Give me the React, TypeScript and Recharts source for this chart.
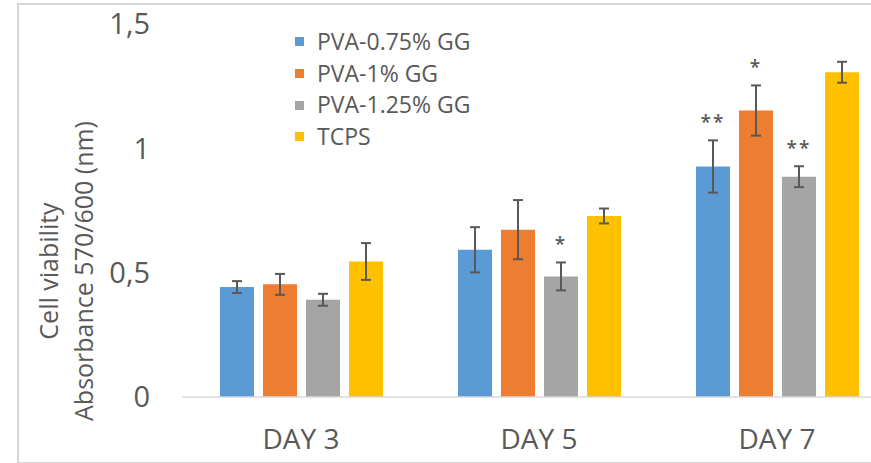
import { BarChart, Bar, XAxis, YAxis, ErrorBar } from "recharts";

const days = ["DAY 3", "DAY 5", "DAY 7"];
const seriesNames = ["PVA-0.75% GG", "PVA-1% GG", "PVA-1.25% GG", "TCPS"];
const colors = ["#5B9BD5", "#ED7D31", "#A5A5A5", "#FFC000"];

const pva075 = [0.442, 0.592, 0.927];
const pva1 = [0.453, 0.673, 1.152];
const pva125 = [0.391, 0.485, 0.886];
const tcps = [0.545, 0.728, 1.306];

const pva075Err = [0.024, 0.091, 0.105];
const pva1Err = [0.042, 0.119, 0.101];
const pva125Err = [0.024, 0.056, 0.042];
const tcpsErr = [0.074, 0.03, 0.042];

const pva075Sig = ["", "", "**"];
const pva1Sig = ["", "", "*"];
const pva125Sig = ["", "*", "**"];
const tcpsSig = ["", "", ""];

const yTicks = [0, 0.5, 1, 1.5];

const values = [pva075, pva1, pva125, tcps];
const errors = [pva075Err, pva1Err, pva125Err, tcpsErr];
const sigs = [pva075Sig, pva1Sig, pva125Sig, tcpsSig];

const data = days.map((day, i) => {
  const row: Record<string, string | number> = { day };
  values.forEach((v, s) => {
    row[`s${s}`] = v[i];
    row[`e${s}`] = errors[s][i];
  });
  return row;
});

const FONT = "'Open Sans', sans-serif";
const TEXT = "#595959";

function sigLabel(s: number) {
  return (props: any) => {
    const { x, y, width, height, index } = props;
    const mark = sigs[s][index];
    if (!mark) return null;
    const v = values[s][index];
    const errPx = (height * errors[s][index]) / v;
    return (
      <text
        key={`sig-${s}-${index}`}
        x={x + width / 2}
        y={y - errPx - 11}
        textAnchor="middle"
        fontSize={19}
        fontFamily={FONT}
        fontWeight={600}
        fill={TEXT}
        letterSpacing={2}
      >
        {mark}
      </text>
    );
  };
}

function YTick(props: any) {
  const { y, payload } = props;
  return (
    <text
      x={150}
      y={y}
      dy="0.36em"
      textAnchor="end"
      fontSize={29}
      fontFamily={FONT}
      fill={TEXT}
    >
      {String(payload.value).replace(".", ",")}
    </text>
  );
}

function XTick(props: any) {
  const { x, payload } = props;
  return (
    <text
      x={x}
      y={439}
      dy="0.36em"
      textAnchor="middle"
      fontSize={28}
      fontFamily={FONT}
      fill={TEXT}
    >
      {payload.value}
    </text>
  );
}

function LegendBox() {
  return (
    <div style={{ fontFamily: FONT, color: TEXT }}>
      {seriesNames.map((name, i) => (
        <div
          key={name}
          style={{ display: "flex", alignItems: "center", height: 31.7 }}
        >
          <span
            style={{
              width: 9,
              height: 9,
              background: colors[i],
              marginRight: 13,
              display: "inline-block",
            }}
          />
          <span style={{ fontSize: 23, lineHeight: "31.7px" }}>{name}</span>
        </div>
      ))}
    </div>
  );
}

export default function App() {
  return (
    <div
      style={{
        position: "absolute",
        left: 0,
        top: 0,
        width: 871,
        height: 463,
        overflow: "hidden",
        background: "#fff",
      }}
    >
      <div
        style={{
          position: "absolute",
          left: 17,
          top: 3,
          width: 900,
          height: 457,
          border: "2px solid #d6d6d6",
        }}
      />
      <svg
        width={120}
        height={463}
        style={{ position: "absolute", left: 0, top: 0 }}
      >
        <g transform="translate(49,271) rotate(-90)">
          <text
            textAnchor="middle"
            dy="0.36em"
            fontSize={25}
            fontFamily={FONT}
            fill={TEXT}
          >
            Cell viability
          </text>
        </g>
        <g transform="translate(84,271) rotate(-90)">
          <text
            textAnchor="middle"
            dy="0.36em"
            fontSize={25}
            fontFamily={FONT}
            fill={TEXT}
          >
            Absorbance 570/600 (nm)
          </text>
        </g>
      </svg>
      <div style={{ position: "absolute", left: 0, top: 0 }}>
        <BarChart
          width={896}
          height={463}
          data={data}
          margin={{ top: 24, right: 0, bottom: 0, left: 0 }}
          barSize={34}
          barGap={9}
        >
          <XAxis
            dataKey="day"
            height={66}
            axisLine={{ stroke: "#d9d9d9", strokeWidth: 1.5 }}
            tickLine={false}
            tick={<XTick />}
            interval={0}
          />
          <YAxis
            width={182}
            domain={[0, 1.5]}
            ticks={yTicks}
            axisLine={false}
            tickLine={false}
            tick={<YTick />}
          />
          {seriesNames.map((name, s) => (
            <Bar
              key={name}
              dataKey={`s${s}`}
              name={name}
              fill={colors[s]}
              isAnimationActive={false}
              label={sigLabel(s)}
            >
              <ErrorBar
                dataKey={`e${s}`}
                width={5}
                stroke="#595959"
                strokeWidth={2}
                direction="y"
              />
            </Bar>
          ))}
        </BarChart>
      </div>
      <div style={{ position: "absolute", left: 295, top: 26 }}>
        <LegendBox />
      </div>
    </div>
  );
}
